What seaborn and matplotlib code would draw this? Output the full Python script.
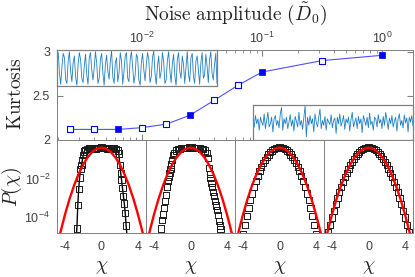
import numpy as np
import pandas as pd
import matplotlib
matplotlib.use("Agg")
import matplotlib.pyplot as plt
import seaborn as sns
from matplotlib.ticker import NullLocator, LogLocator

# ---- top panel: kurtosis vs noise amplitude ----
noise_amp = [0.0025, 0.004, 0.0063, 0.01, 0.016, 0.025, 0.04, 0.063, 0.1, 0.316, 1.0]
kurtosis = [2.12, 2.12, 2.12, 2.14, 2.18, 2.28, 2.45, 2.62, 2.77, 2.90, 2.96]
filled = [False, False, True, False, False, True, False, False, True, False, True]

# ---- inset time series (low noise / high noise) ----
signal_low = [0.2, 0.9, -0.3, -0.95, 0.1, 0.85, 0.6, -0.7, -0.9, 0.4, 0.95, -0.2, -0.8, 0.3,
              0.7, -0.5, -1.0, 0.2, 0.9, 0.5, -0.6, -0.85, 0.1, 0.8, -0.4, -0.95, 0.6, 0.9,
              -0.1, -0.7, 0.0, 0.95, 0.3, -0.9, -0.6, 0.5, 0.85, -0.3, -1.0, 0.2, 0.75, -0.2,
              -0.65, 0.4, 1.0, -0.5, -0.9, 0.3, 0.6, -0.8, -0.3, 0.9, 0.4, -0.95, -0.2, 0.7,
              0.9, -0.6, -0.8, 0.5, 0.95, 0.0, -0.9, -0.4, 0.8, 0.6, -0.7, -1.0, 0.3, 0.85,
              -0.1, -0.75, 0.2, 0.9, 0.5, -0.85, -0.5, 0.6, 1.0, -0.3, -0.95, 0.1, 0.7, -0.6,
              -0.2, 0.9, 0.35, -0.9, -0.7, 0.45, 0.95, -0.15, -0.85, 0.25, 0.8, -0.45, -1.0,
              0.5, 0.9, -0.2, -0.6, 0.7, 0.2, -0.9, 0.0, 0.95, -0.35, -0.8, 0.6, 0.85,
              -0.5, -0.9, 0.4, 0.7, -0.1, -0.95, 0.3, 0.9, -0.6, -0.4, 0.8, 0.1, -0.85, 0.5,
              0.95, -0.3, -0.7, 0.2, 0.85, -0.9]
signal_high = [0.1, -0.3, 0.4, -0.1, 0.2, -0.5, 0.3, 0.0, -0.2, 0.5, -0.4, 0.1, 0.6, -0.3,
               -0.1, 0.3, -0.6, 0.2, 0.4, -0.2, 0.1, -0.35, 0.5, 0.9, -0.5, 0.2, -0.1, 0.3,
               -0.4, 0.0, 0.45, -0.25, 0.15, -0.55, 0.35, 0.05, -0.3, 0.6, -0.2, 0.1, -0.45,
               0.25, 1.0, -0.9, 0.3, -0.2, 0.4, -0.1, 0.2, -0.6, 0.5, 0.0, -0.3, 0.3, 0.8,
               -0.4, 0.1, -0.2, 0.35, -0.5, 0.2, 0.0, -0.15, 0.45, -0.35, 0.1, 0.25, -0.7, 0.3,
               -0.1, 0.5, -0.25, 0.05, 0.4, -0.45, 0.2, -0.05, 0.3, -0.55, 0.15, 0.6, -0.3,
               0.0, 0.25, -0.4, 0.35, -0.1, 0.2, -0.65, 0.4, 0.1, -0.2, 0.3, -0.35, 0.55,
               -0.15, 0.05, -0.5, 0.3, 0.2, -0.3, 0.45, -0.05, 0.15, -0.4, 0.35, -0.2, 0.6,
               0.1, -0.45, 0.25, -0.1, 0.4, -0.3, 0.05, 0.3, -0.55, 0.2, 0.5, -0.2, 0.1,
               -0.35, 0.45, -0.05, 0.25, -0.6, 0.3, 0.0, 0.4, -0.25]

# ---- bottom panels: P(chi), log10 values ----
chi1 = [-2.8, -2.7, -2.6, -2.5, -2.4, -2.3, -2.2, -2.1, -2.0, -1.9, -1.8, -1.6, -1.4, -1.2,
        -1.0, -0.8, -0.6, -0.4, -0.2, 0.0, 0.2, 0.4, 0.6, 0.8, 1.0, 1.2, 1.4, 1.6, 1.8, 1.9,
        2.0, 2.1, 2.2, 2.3, 2.4, 2.5, 2.6, 2.7, 2.8]
logp1 = [-5.2, -4.6, -3.4, -2.55, -1.95, -1.5, -1.3, -1.05, -0.8, -0.6, -0.52, -0.47, -0.43,
         -0.42, -0.44, -0.45, -0.44, -0.42, -0.40, -0.39, -0.40, -0.42, -0.44, -0.45, -0.44,
         -0.42, -0.43, -0.47, -0.55, -0.7, -1.3, -1.7, -2.1, -2.5, -2.9, -3.3, -3.8, -4.45, -5.0]

chi2 = [-3.2, -3.1, -3.0, -2.9, -2.8, -2.7, -2.6, -2.5, -2.4, -2.3, -2.2, -2.1, -2.0, -1.9,
        -1.8, -1.6, -1.4, -1.2, -1.0, -0.8, -0.6, -0.4, -0.2, 0.0, 0.2, 0.4, 0.6, 0.8, 1.0,
        1.2, 1.4, 1.6, 1.8, 1.9, 2.0, 2.1, 2.2, 2.3, 2.4, 2.5, 2.6, 2.7, 2.8, 2.9, 3.0, 3.1,
        3.2, 3.3]
logp2 = [-4.6, -4.18, -3.88, -3.53, -3.19, -2.85, -2.42, -2.12, -1.9, -1.7, -1.5, -1.28, -1.05,
         -0.78, -0.66, -0.55, -0.48, -0.45, -0.43, -0.42, -0.41, -0.40, -0.39, -0.39, -0.39,
         -0.40, -0.41, -0.42, -0.43, -0.45, -0.48, -0.55, -0.68, -0.95, -1.45, -1.75, -1.98,
         -2.23, -2.46, -2.69, -2.93, -3.17, -3.41, -3.65, -3.9, -4.2, -4.45, -4.65]

chi3 = [-4.0, -3.8, -3.6, -3.4, -3.2, -3.0, -2.8, -2.6, -2.4, -2.2, -2.0, -1.8, -1.6, -1.4,
        -1.2, -1.0, -0.8, -0.6, -0.4, -0.2, 0.0, 0.2, 0.4, 0.6, 0.8, 1.0, 1.2, 1.4, 1.6, 1.8,
        2.0, 2.2, 2.4, 2.6, 2.8, 3.0, 3.2, 3.4, 3.6, 3.8, 4.0]
logp3 = [-4.91, -4.42, -3.96, -3.53, -3.14, -2.78, -2.45, -2.15, -1.88, -1.63, -1.41, -1.21,
         -1.03, -0.88, -0.75, -0.64, -0.55, -0.48, -0.43, -0.40, -0.39, -0.40, -0.43, -0.48,
         -0.55, -0.64, -0.75, -0.88, -1.03, -1.21, -1.41, -1.63, -1.88, -2.15, -2.45, -2.78,
         -3.14, -3.53, -3.96, -4.42, -4.91]

chi4 = [-4.4, -4.2, -4.0, -3.8, -3.6, -3.4, -3.2, -3.0, -2.8, -2.6, -2.4, -2.2, -2.0, -1.8,
        -1.6, -1.4, -1.2, -1.0, -0.8, -0.6, -0.4, -0.2, 0.0, 0.2, 0.4, 0.6, 0.8, 1.0, 1.2,
        1.4, 1.6, 1.8, 2.0, 2.2, 2.4, 2.6, 2.8, 3.0, 3.2, 3.4, 3.6, 3.8, 4.0, 4.2, 4.4]
logp4 = [-4.80, -4.41, -4.03, -3.68, -3.34, -3.02, -2.72, -2.44, -2.18, -1.93, -1.70, -1.49,
         -1.30, -1.13, -0.97, -0.84, -0.72, -0.62, -0.54, -0.47, -0.43, -0.40, -0.39, -0.40,
         -0.43, -0.47, -0.54, -0.62, -0.72, -0.84, -0.97, -1.13, -1.30, -1.49, -1.70, -1.93,
         -2.18, -2.44, -2.72, -3.02, -3.34, -3.68, -4.03, -4.41, -4.80]

# standard gaussian reference (red)
gauss_chi = [-5.0, -4.5, -4.0, -3.5, -3.0, -2.5, -2.0, -1.5, -1.0, -0.5, 0.0,
             0.5, 1.0, 1.5, 2.0, 2.5, 3.0, 3.5, 4.0, 4.5, 5.0]
gauss_p = [1.49e-6, 1.60e-5, 1.34e-4, 8.73e-4, 4.43e-3, 1.75e-2, 5.40e-2, 0.1295, 0.2420,
           0.3521, 0.3989, 0.3521, 0.2420, 0.1295, 5.40e-2, 1.75e-2, 4.43e-3, 8.73e-4,
           1.34e-4, 1.60e-5, 1.49e-6]

panels = [(chi1, logp1), (chi2, logp2), (chi3, logp3), (chi4, logp4)]

sns.set_style("white")
plt.rcParams['font.family'] = ['Liberation Sans', 'DejaVu Sans']
plt.rcParams['mathtext.fontset'] = 'custom'
plt.rcParams['mathtext.rm'] = 'Liberation Sans'
plt.rcParams['mathtext.it'] = 'Liberation Sans:italic'
plt.rcParams['mathtext.bf'] = 'Liberation Sans:bold'

W, H = 415, 277
spine_c = '#808080'
tick_c = '#404040'
label_c = '#222222'


def pos(x0, y0, x1, y1):
    return [x0 / W, 1 - y1 / H, (x1 - x0) / W, (y1 - y0) / H]


def style_spines(a, lw=0.7):
    for s in a.spines.values():
        s.set_visible(True)
        s.set_color(spine_c)
        s.set_linewidth(lw)


fig = plt.figure(figsize=(W / 100, H / 100), dpi=100)

# top panel
ax = fig.add_axes(pos(57, 50, 413, 140))
df_k = pd.DataFrame({'amp': noise_amp, 'kurt': kurtosis, 'filled': filled})
sns.lineplot(data=df_k, x='amp', y='kurt', ax=ax, color='#5050ff', lw=0.8)
sns.scatterplot(data=df_k[~df_k['filled']], x='amp', y='kurt', ax=ax, marker='s', s=17,
                facecolor='white', edgecolor='#0000ff', linewidth=0.8, zorder=3)
sns.scatterplot(data=df_k[df_k['filled']], x='amp', y='kurt', ax=ax, marker='s', s=24,
                color='#0000ff', edgecolor='#0000ff', linewidth=0.5, zorder=3)
ax.set_xscale('log')
ax.set_xlim(1.96e-3, 1.81)
ax.set_ylim(2, 3.02)
ax.set_yticks([2, 2.5, 3])
ax.set_yticklabels(['2', '2.5', '3'])
ax.xaxis.set_minor_locator(LogLocator(base=10, subs=np.arange(2, 10)))
ax.tick_params(axis='x', which='both', top=True, bottom=True, labeltop=True,
               labelbottom=False, direction='in', colors=tick_c, labelsize=9, pad=3)
ax.tick_params(axis='x', which='major', length=4, color=spine_c)
ax.tick_params(axis='x', which='minor', length=2, color=spine_c)
ax.tick_params(axis='y', left=True, right=True, direction='in', length=4,
               color=spine_c, labelcolor=tick_c, labelsize=9, pad=5)
ax.set_xlabel('')
ax.set_ylabel('')
style_spines(ax)

# insets
ins1 = fig.add_axes(pos(57, 50, 217, 86))
sns.lineplot(x=list(range(len(signal_low))), y=signal_low, ax=ins1, color='#1f7fc4', lw=0.6)
ins1.set_xlim(0, len(signal_low) - 1)
ins1.set_ylim(-1.05, 1.05)
ins2 = fig.add_axes(pos(253, 105, 413, 140))
sns.lineplot(x=list(range(len(signal_high))), y=signal_high, ax=ins2, color='#1f7fc4', lw=0.6)
ins2.set_xlim(0, len(signal_high) - 1)
ins2.set_ylim(-1.1, 1.05)
for a in (ins1, ins2):
    a.set_xticks([])
    a.set_yticks([])
    a.set_facecolor('white')
    style_spines(a, lw=0.9)

# bottom panels
xe = [57, 146, 235, 324, 413]
for i, (chi, logp) in enumerate(panels):
    axp = fig.add_axes(pos(xe[i], 140, xe[i + 1], 232.7))
    pvals = 10 ** np.array(logp)
    if i == 0:
        sns.lineplot(x=chi, y=pvals, ax=axp, color='black', lw=1.0, sort=False, zorder=2)
    sns.scatterplot(x=chi, y=pvals, ax=axp, marker='s', s=20, facecolor='none',
                    edgecolor='#1a1a1a', linewidth=0.7, zorder=3)
    sns.lineplot(x=gauss_chi, y=gauss_p, ax=axp, color='#ff0000', lw=1.7, zorder=4)
    axp.set_yscale('log')
    axp.set_ylim(1.5e-5, 1)
    axp.set_xlim(-4.88, 4.88)
    axp.set_xticks([-4, 0, 4])
    axp.set_xticklabels(['-4', '0', '4'])
    axp.set_yticks([1e-4, 1e-2, 1])
    axp.yaxis.set_minor_locator(NullLocator())
    if i == 0:
        axp.set_yticklabels([r'$10^{-4}$', r'$10^{-2}$', ''])
    else:
        axp.set_yticklabels(['', '', ''])
    axp.tick_params(axis='both', direction='in', length=4, color=spine_c,
                    labelcolor=tick_c, labelsize=9)
    axp.tick_params(axis='x', pad=6)
    axp.tick_params(axis='y', pad=5)
    axp.set_xlabel('')
    axp.set_ylabel('')
    style_spines(axp)
    fig.text((xe[i] + xe[i + 1]) / 2 / W, 1 - 267 / H, r'$\chi$', math_fontfamily='cm',
             fontsize=14, ha='center', va='center', color=label_c)

# axis titles
fig.text(235 / W, 1 - 14 / H, r'$\mathrm{Noise\ amplitude\ }(\tilde{D}_0)$',
         math_fontfamily='cm', fontsize=14, ha='center', va='center', color=label_c)
fig.text(16 / W, 1 - 94 / H, r'$\mathrm{Kurtosis}$', math_fontfamily='cm', fontsize=14,
         rotation=90, ha='center', va='center', color=label_c)
fig.text(12 / W, 1 - 187 / H, r'$P(\chi)$', math_fontfamily='cm', fontsize=14,
         rotation=90, ha='center', va='center', color=label_c)

fig.savefig('out.png', dpi=100)
